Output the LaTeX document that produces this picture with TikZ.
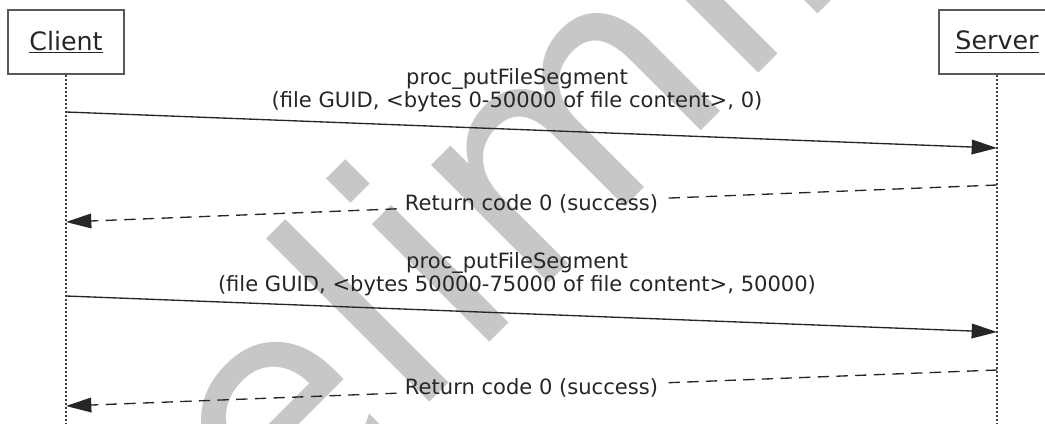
\documentclass[tikz,border=0pt]{standalone}
\usepackage{fontspec}
\setmainfont{DejaVu Sans}
\usetikzlibrary{arrows.meta}

\begin{document}
\begin{tikzpicture}[x=0.75pt,y=-0.75pt]
        \tikzset{actor/.style = {shape=rectangle,draw=black!65,line width=0.9pt,minimum width=87pt,minimum height=48pt,text=black!85,font=\fontsize{19}{22}\selectfont}}
        \tikzset{lifeline/.style = {draw=black!75,line width=1pt,dash pattern=on 1.5pt off 1.5pt}}
        \tikzset{edge/.style = {->,> = {Triangle[length=19pt,width=11pt]},line width=1pt,draw=black!85}}
        \tikzset{reply/.style = {edge,dash pattern=on 8.5pt off 5.5pt}}
        \tikzset{msg/.style = {align=center,text=black!85,font=\fontsize{15.8}{17}\selectfont}}
        \tikzset{watermark/.style = {text=black!22,font=\fontsize{228}{228}\selectfont,rotate=45,anchor=base west,inner sep=0pt}}
        \useasboundingbox (0,0) rectangle (1045,424);
        % watermark
        \node[watermark] (prelim) at (68,764) {Preliminary};
        % vertices
        \node[actor] (client) at (66,42) {\underline{Client}};
        \node[actor] (server) at (997,42) {\underline{Server}};
        \coordinate (clientend) at (66,424);
        \coordinate (serverend) at (997,424);
        \coordinate (c1) at (66,112);
        \coordinate (s1) at (997,148);
        \coordinate (s2) at (997,185);
        \coordinate (c2) at (66,222);
        \coordinate (c3) at (66,296);
        \coordinate (s3) at (997,332);
        \coordinate (s4) at (997,370);
        \coordinate (c4) at (66,406);
        \node[msg] (call1) at (517,90) {proc\_putFileSegment\\(file GUID, <bytes 0-50000 of file content>, 0)};
        \node[msg] (call2) at (517,274) {proc\_putFileSegment\\(file GUID, <bytes 50000-75000 of file content>, 50000)};
        %edges
        \draw[lifeline] (client) -- (clientend);
        \draw[lifeline] (server) -- (serverend);
        \draw[edge] (c1) -- (s1);
        \path (s2) -- node[msg,inner sep=6pt] (ret1) {Return code 0 (success)} (c2);
        \draw[reply,-] (s2) -- (ret1);
        \draw[reply] (ret1) -- (c2);
        \draw[edge] (c3) -- (s3);
        \path (s4) -- node[msg,inner sep=6pt] (ret2) {Return code 0 (success)} (c4);
        \draw[reply,-] (s4) -- (ret2);
        \draw[reply] (ret2) -- (c4);
\end{tikzpicture}
\end{document}
